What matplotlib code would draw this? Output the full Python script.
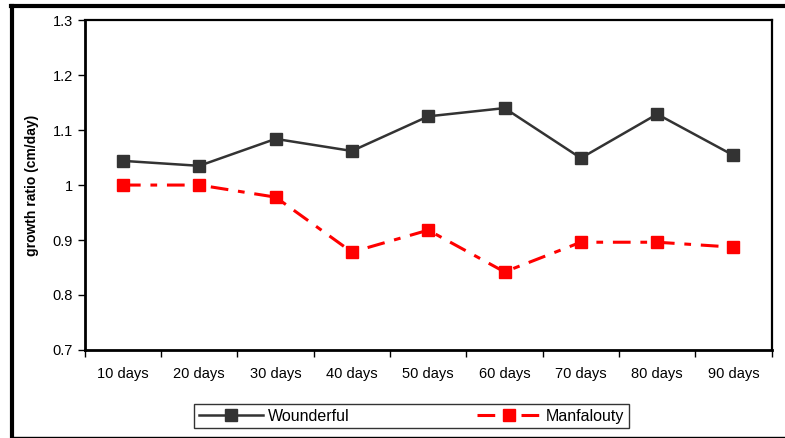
import matplotlib.pyplot as plt
from matplotlib.lines import Line2D

plt.rcParams['font.family'] = ['Liberation Sans', 'DejaVu Sans']

days = ["10 days", "20 days", "30 days", "40 days", "50 days",
        "60 days", "70 days", "80 days", "90 days"]
wounderful = [1.044, 1.035, 1.084, 1.062, 1.125, 1.140, 1.049, 1.129, 1.054]
manfalouty = [1.000, 1.000, 0.978, 0.878, 0.918, 0.842, 0.896, 0.896, 0.887]

fig = plt.figure(figsize=(7.85, 4.38), dpi=100)
ax = fig.add_axes([0.108, 0.201, 0.875, 0.753])

x = list(range(len(days)))
ax.plot(x, wounderful, color='#333333', lw=1.8, marker='s', ms=9,
        label='Wounderful')
ax.plot(x, manfalouty, color='#ff0000', lw=2.2, marker='s', ms=9,
        dashes=(5.8, 3.2, 2.2, 3.2), label='Manfalouty')

ax.set_ylim(0.7, 1.3)
ax.set_yticks([0.7, 0.8, 0.9, 1.0, 1.1, 1.2, 1.3])
ax.set_yticklabels(['0.7', '0.8', '0.9', '1', '1.1', '1.2', '1.3'])
ax.set_xlim(-0.5, len(days) - 0.5)
ax.set_xticks(x)
ax.set_xticklabels(days)
ax.set_xticks([i - 0.5 for i in range(len(days) + 1)], minor=True)
ax.tick_params(axis='x', which='major', length=0, pad=12, labelsize=10.5)
ax.tick_params(axis='x', which='minor', length=5, width=1)
ax.tick_params(axis='y', length=5, width=1, labelsize=10.5)
for s in ax.spines.values():
    s.set_linewidth(1.6)
ax.spines['left'].set_linewidth(2)
ax.spines['bottom'].set_linewidth(2)
ax.set_ylabel('growth ratio (cm/day)', fontweight='bold', fontsize=10, labelpad=10)

leg = fig.legend(loc='center', bbox_to_anchor=(0.524, 0.05), ncol=2,
                 frameon=True, fancybox=False, edgecolor='black',
                 fontsize=11.5, handlelength=4, columnspacing=8,
                 borderpad=0.3, handletextpad=0.3)
leg.get_frame().set_linewidth(1)

# outer frame
fig.add_artist(Line2D([0.014, 1.0], [0.986, 0.986], color='black', lw=3,
                      transform=fig.transFigure))
fig.add_artist(Line2D([0.015, 0.015], [0.003, 0.986], color='black', lw=3,
                      transform=fig.transFigure))
fig.add_artist(Line2D([0.014, 1.0], [0.003, 0.003], color='black', lw=1,
                      transform=fig.transFigure))

fig.savefig('out.png', dpi=100)
